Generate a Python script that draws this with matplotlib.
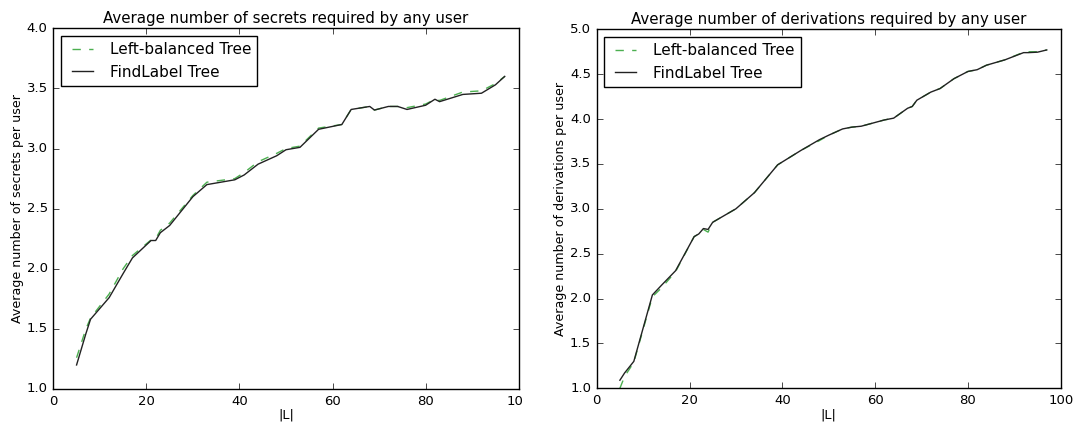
"""Average secrets / derivations per user for two tree constructions."""

import matplotlib

matplotlib.use("Agg")
import matplotlib.pyplot as plt
from matplotlib.transforms import Bbox, TransformedBbox

plt.style.use("classic")

# left panel: secrets per user
SECRETS_L = [5, 7, 8, 12, 15, 17, 21, 22, 23, 25, 30, 33, 39, 41, 44, 48, 50, 53,
             57, 62, 64, 68, 69, 72, 74, 76, 80, 82, 83, 88, 92, 95, 97]
SECRETS_FINDLABEL = [1.20, 1.46, 1.58, 1.76, 1.96, 2.09, 2.235, 2.235, 2.30, 2.36,
                     2.60, 2.70, 2.74, 2.78, 2.87, 2.94, 2.99, 3.01, 3.16, 3.20,
                     3.325, 3.35, 3.32, 3.35, 3.35, 3.325, 3.36, 3.41, 3.39, 3.45,
                     3.46, 3.53, 3.60]
SECRETS_LEFTBAL = [1.26, 1.50, 1.59, 1.79, 2.00, 2.11, 2.24, 2.25, 2.32, 2.38,
                   2.61, 2.72, 2.75, 2.80, 2.89, 2.96, 3.00, 3.02, 3.17, 3.20,
                   3.325, 3.35, 3.32, 3.35, 3.35, 3.34, 3.37, 3.41, 3.40, 3.47,
                   3.48, 3.54, 3.60]

# right panel: derivations per user
DERIV_L = [5, 6, 8, 12, 14, 17, 21, 22, 23, 24, 25, 30, 34, 39, 44, 48, 50, 53, 55,
           57, 62, 64, 67, 68, 69, 72, 74, 77, 80, 82, 84, 88, 92, 93, 95, 97]
DERIV_FINDLABEL = [1.09, 1.17, 1.30, 2.04, 2.15, 2.31, 2.69, 2.72, 2.78, 2.77, 2.85,
                   3.00, 3.18, 3.49, 3.65, 3.77, 3.82, 3.89, 3.91, 3.92, 3.99, 4.01,
                   4.12, 4.14, 4.21, 4.30, 4.34, 4.45, 4.53, 4.55, 4.60, 4.66, 4.74,
                   4.74, 4.745, 4.77]
DERIV_LEFTBAL = [1.00, 1.13, 1.29, 2.02, 2.12, 2.30, 2.69, 2.72, 2.77, 2.74, 2.85,
                 3.00, 3.18, 3.49, 3.65, 3.76, 3.82, 3.89, 3.91, 3.92, 3.99, 4.01,
                 4.12, 4.14, 4.21, 4.30, 4.34, 4.45, 4.53, 4.55, 4.60, 4.66, 4.745,
                 4.75, 4.75, 4.77]

PANELS = (
    (SECRETS_L, SECRETS_LEFTBAL, SECRETS_FINDLABEL, (1.0, 4.0),
     "Average number of secrets required by any user",
     "Average number of secrets per user",
     [53.3, 28.3, 518.7, 389.0]),
    (DERIV_L, DERIV_LEFTBAL, DERIV_FINDLABEL, (1.0, 5.0),
     "Average number of derivations required by any user",
     "Average number of derivations per user",
     [596.7, 29.3, 1060.7, 388.3]),
)

W, H = 1073, 425

fig = plt.figure(figsize=(W / 100, H / 100), dpi=100, facecolor="white")
axes = []
for xs, left_bal, find_label, ylim, title, ylabel, box in PANELS:
    x0, y0, x1, y1 = box
    ax = fig.add_axes([x0 / W, 1 - y1 / H, (x1 - x0) / W, (y1 - y0) / H])
    ax.plot(xs, left_bal, "--", color="#4caf50", lw=1.0, label="Left-balanced Tree")
    ax.plot(xs, find_label, "-", color="#222222", lw=1.0, label="FindLabel Tree")
    ax.set_xlim(0, 100)
    ax.set_ylim(*ylim)
    ax.set_title(title, fontsize=10.8, pad=4)
    ax.set_xlabel("|L|", fontsize=9.3, labelpad=1)
    ax.set_ylabel(ylabel, fontsize=9.1, labelpad=2)
    ax.tick_params(labelsize=9.5)
    ax.legend(loc="upper left", fontsize=11, handlelength=2.0)
    axes.append(ax)

# the left panel was cropped just right of its axes in the original
fig.canvas.draw()
clip = TransformedBbox(Bbox([[0, 0], [522 / W, 1]]), fig.transFigure)
last = axes[0].xaxis.get_major_ticks()[-1].label1
last.set_clip_box(clip)
last.set_clip_on(True)

fig.savefig("out.png", dpi=100, facecolor="white")
